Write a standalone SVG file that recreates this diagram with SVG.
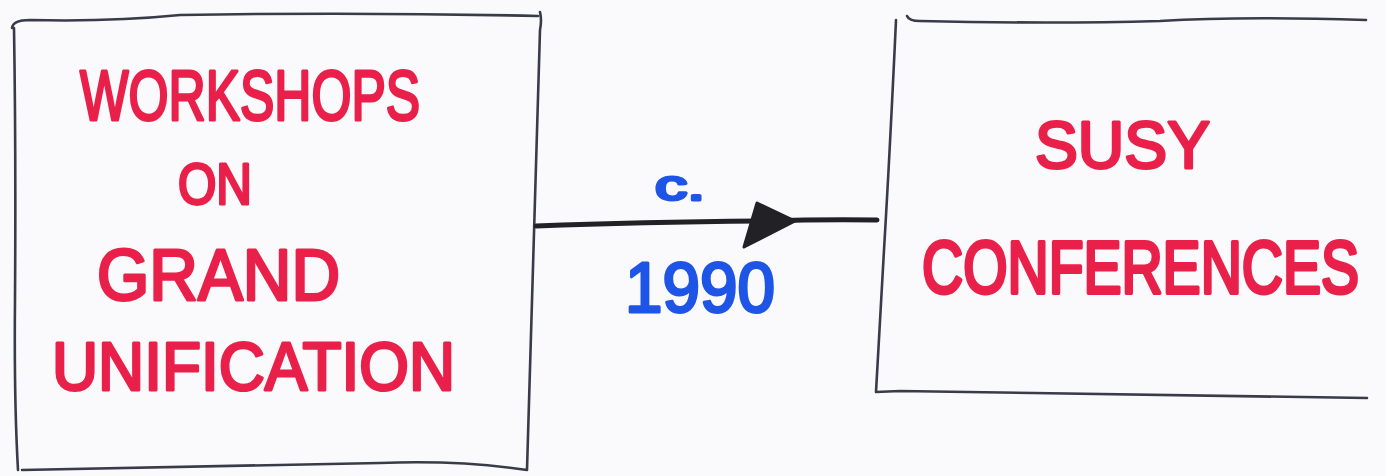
<svg xmlns="http://www.w3.org/2000/svg" width="1386" height="476" viewBox="0 0 1386 476">
  <style>
    .frame { fill: none; stroke: #3a3b48; stroke-width: 2.6; stroke-linecap: round; stroke-linejoin: round; }
    .red { fill: #e8204a; stroke: #e8204a; stroke-width: 3; stroke-linejoin: round; font-family: "Liberation Sans", Arial, sans-serif; }
    .blue { fill: #1f55e6; stroke: #1f55e6; stroke-width: 3; stroke-linejoin: round; font-family: "Liberation Sans", Arial, sans-serif; }
    .conn { fill: none; stroke: #222226; stroke-width: 5; stroke-linecap: round; }
    .head { fill: #222226; stroke: #222226; stroke-width: 3; stroke-linejoin: round; }
  </style>
  <rect x="0" y="0" width="1386" height="476" fill="#fafafc"/>

  <g id="node-workshops">
    <path class="frame" d="M12 28 Q13 20 30 20 Q110 22 180 15 Q360 12 538 16 M540 12 Q542 20 540 30 L527 470 M527 470 Q460 460 380 463 Q200 466 22 470 M18 470 Q14 400 15 300 Q16 150 14 28"/>
    <text class="red" x="80" y="120" font-size="70" textLength="340" lengthAdjust="spacingAndGlyphs">WORKSHOPS</text>
    <text class="red" x="178" y="204" font-size="58" textLength="74" lengthAdjust="spacingAndGlyphs">ON</text>
    <text class="red" x="97" y="300" font-size="72" textLength="243" lengthAdjust="spacingAndGlyphs">GRAND</text>
    <text class="red" x="52" y="390" font-size="68" textLength="403" lengthAdjust="spacingAndGlyphs">UNIFICATION</text>
  </g>

  <g id="node-susy">
    <path class="frame" d="M907 16 Q909 21 920 21 Q1050 24 1160 21 Q1240 16 1366 20 M896 20 Q890 150 884 250 Q879 340 876 392 L900 391 Q1100 394 1367 398"/>
    <text class="red" x="1035" y="168" font-size="66" textLength="175" lengthAdjust="spacingAndGlyphs">SUSY</text>
    <text class="red" x="922" y="225.4" font-size="57" transform="scale(1,1.3)">CONFERENCES</text>
  </g>

  <g id="connectors">
    <path class="conn" d="M536 226 Q640 222 760 221 Q830 219 877 220"/>
    <path class="head" d="M757 203 L795 221 L744 247 Z"/>
    <text class="blue" x="655" y="200" font-size="42" textLength="50" lengthAdjust="spacingAndGlyphs">c.</text>
    <text class="blue" x="625" y="312" font-size="70" textLength="150" lengthAdjust="spacingAndGlyphs">1990</text>
  </g>
</svg>
